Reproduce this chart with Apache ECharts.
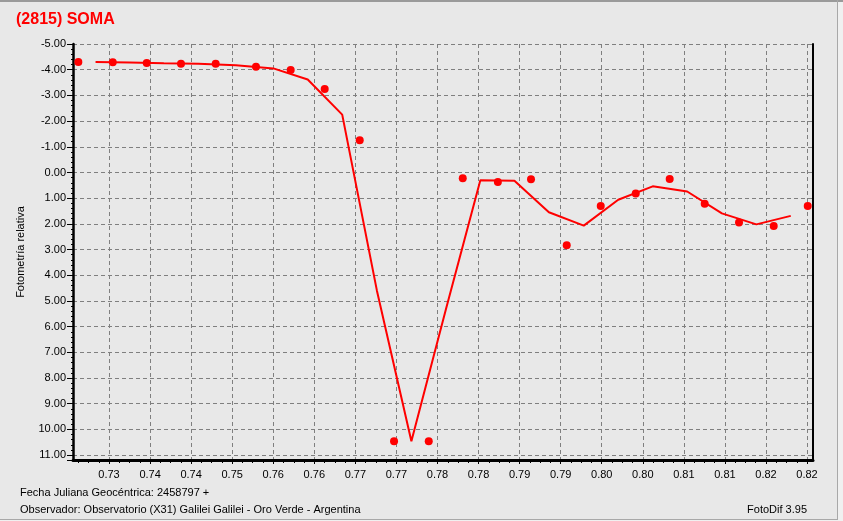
<!DOCTYPE html>
<html>
<head>
<meta charset="utf-8">
<script src="https://cdn.jsdelivr.net/npm/echarts@6/dist/echarts.min.js"></script>
<style>
html,body{margin:0;padding:0;background:#f0f0f0;}
#chart{width:843px;height:521px;}
</style>
</head>
<body>
<div id="chart"></div>
<script>
// ---- data ----
const titleText = '(2815) SOMA';
const yAxisTitle = 'Fotometría relativa';
const footLeft1 = 'Fecha Juliana Geocéntrica: 2458797 +';
const footLeft2 = 'Observador: Observatorio (X31) Galilei Galilei - Oro Verde - Argentina';
const footRight = 'FotoDif 3.95';

const xTickValues = [0.734,0.7393,0.7446,0.7499,0.7552,0.7605,0.7658,0.7711,0.7764,0.7817,0.7870,0.7923,0.7976,0.8029,0.8082,0.8135,0.8188,0.8241];
const xTickLabels = ['0.73','0.74','0.74','0.75','0.76','0.76','0.77','0.77','0.78','0.78','0.79','0.79','0.80','0.80','0.81','0.81','0.82','0.82'];
const xMin = 0.72935, xMax = 0.82487;
const yMin = -5, yMax = 11.19;

const obsX = [0.73004,0.73448,0.73887,0.74329,0.74777,0.75297,0.75745,0.76184,0.76636,0.77079,0.77527,0.77966,0.78419,0.78847,0.79308,0.79747,0.80199,0.80637,0.81089,0.81532,0.81980,0.82419];
const obsY = [-4.30,-4.29,-4.26,-4.23,-4.23,-4.11,-3.99,-3.25,-1.25,10.46,10.46,0.22,0.37,0.26,2.83,1.30,0.82,0.25,1.22,1.95,2.08,1.30];

const fitX = [0.73226,0.73668,0.74108,0.74553,0.75037,0.75521,0.75965,0.76410,0.76858,0.77303,0.77747,0.78193,0.78633,0.79078,0.79528,0.79973,0.80418,0.80863,0.81311,0.81756,0.82200];
const fitY = [-4.30,-4.28,-4.25,-4.23,-4.17,-4.05,-3.62,-2.25,4.60,10.46,5.34,0.30,0.32,1.55,2.07,1.06,0.54,0.74,1.59,2.02,1.69];

// minor tick positions (quarter steps between labelled ticks)
const minorTicks = [];
(function(){
  const step = (xTickValues[1]-xTickValues[0])/4;
  for (let v = xTickValues[0]; v > xMin; v -= step) minorTicks.push(v);
  for (let v = xTickValues[0]+step; v < xMax; v += step) minorTicks.push(v);
})();

const chart = echarts.init(document.getElementById('chart'), null, {renderer:'canvas'});
const FONT = 'Liberation Sans, Arial, sans-serif';
const gridColor = '#7f7f7f';

chart.setOption({
  backgroundColor: '#f0f0f0',
  animation: false,
  title: {
    text: titleText, left: 16, top: 12, padding: 0,
    textStyle: {color:'#ff0000', fontSize:16, fontWeight:'bold', fontFamily: FONT}
  },
  grid: {left:73, top:44, width:740, height:416, show:false},
  graphic: [
    {type:'rect', z:-10, shape:{x:0,y:0,width:838,height:519}, style:{fill:'#e8e8e8'}, silent:true},
    {type:'line', z:-9, shape:{x1:0,y1:1,x2:843,y2:1}, style:{stroke:'#9a9a9a', lineWidth:2}, silent:true},
    {type:'line', z:-9, shape:{x1:837.5,y1:0,x2:837.5,y2:520}, style:{stroke:'#a8a8a8', lineWidth:1}, silent:true},
    {type:'line', z:-9, shape:{x1:0,y1:519.5,x2:838,y2:519.5}, style:{stroke:'#a8a8a8', lineWidth:1}, silent:true},
    {type:'text', style:{text: footLeft1, x:20, y:493, fill:'#000', font:'11px '+FONT, verticalAlign:'middle', align:'left'}},
    {type:'text', style:{text: footLeft2, x:20, y:510, fill:'#000', font:'11px '+FONT, verticalAlign:'middle', align:'left'}},
    {type:'text', style:{text: footRight, x:807, y:510, fill:'#000', font:'11px '+FONT, verticalAlign:'middle', align:'right'}}
  ],
  xAxis: [
    {
      type:'value', min:xMin, max:xMax, position:'bottom',
      axisLine:{show:true, onZero:false, lineStyle:{color:'#000', width:3}},
      axisTick:{show:true, customValues:xTickValues, length:4, lineStyle:{color:'#000', width:1}},
      axisLabel:{show:true, customValues:xTickValues, margin:9, color:'#000', fontSize:11, fontFamily:FONT,
        formatter:function(v){ let i=-1, best=1; xTickValues.forEach((t,k)=>{const d=Math.abs(t-v); if(d<best){best=d;i=k;}}); return xTickLabels[i]; }},
      splitLine:{show:true, customValues:xTickValues, lineStyle:{color:gridColor, type:[4,3], width:1}}
    },
    {
      type:'value', min:xMin, max:xMax, position:'bottom',
      axisLine:{show:false, onZero:false},
      axisTick:{show:true, customValues:minorTicks, length:3, lineStyle:{color:'#000', width:1}},
      axisLabel:{show:false},
      splitLine:{show:false}
    }
  ],
  yAxis: [
    {
      type:'value', inverse:true, min:yMin, max:yMax, interval:1,
      name: yAxisTitle, nameLocation:'middle', nameGap:47, nameRotate:90,
      nameTextStyle:{color:'#000', fontSize:11, fontFamily:FONT},
      axisLine:{show:true, onZero:false, lineStyle:{color:'#000', width:2.5}},
      axisTick:{show:true, length:6, lineStyle:{color:'#000', width:1}},
      minorTick:{show:true, splitNumber:5, length:2, lineStyle:{color:'#000', width:1}},
      axisLabel:{color:'#000', fontSize:11, fontFamily:FONT, margin:7, showMaxLabel:false,
        formatter:function(v){ return v.toFixed(2); }},
      splitLine:{show:true, lineStyle:{color:gridColor, type:[4,3], width:1}}
    },
    {
      type:'value', inverse:true, min:yMin, max:yMax, position:'right',
      axisLine:{show:true, onZero:false, lineStyle:{color:'#000', width:2}},
      axisTick:{show:false}, axisLabel:{show:false}, splitLine:{show:false}
    }
  ],
  series: [
    {
      type:'line', xAxisIndex:0, yAxisIndex:0,
      data: fitX.map((x,i)=>[x, fitY[i]]),
      showSymbol:false, symbol:'none',
      lineStyle:{color:'#ff0000', width:2},
      z:3
    },
    {
      type:'scatter', xAxisIndex:0, yAxisIndex:0,
      data: obsX.map((x,i)=>[x, obsY[i]]),
      symbol:'circle', symbolSize:8,
      itemStyle:{color:'#ff0000', opacity:1},
      z:4
    }
  ]
});
</script>
</body>
</html>
